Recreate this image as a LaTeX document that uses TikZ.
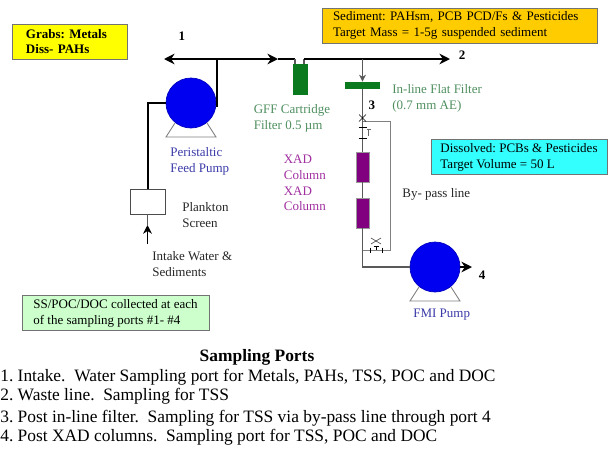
\documentclass[tikz,border=0pt]{standalone}
\usepackage{fontspec}
\setmainfont{Liberation Serif}
\usetikzlibrary{positioning, arrows.meta, calc}
\definecolor{grabyellow}{HTML}{FFFF00}
\definecolor{sedorange}{HTML}{FFCC00}
\definecolor{dissblue}{HTML}{33FFFF}
\definecolor{noteGreen}{HTML}{CCFFCC}
\definecolor{pumpblue}{HTML}{0000F0}
\definecolor{filtgreen}{HTML}{0B7A1E}
\definecolor{xadpurple}{HTML}{800080}
\definecolor{labblue}{HTML}{3A3AA8}
\definecolor{labgreen}{HTML}{4F8F5F}
\definecolor{labpurple}{HTML}{A030A0}
\definecolor{linegray}{HTML}{808080}
\frenchspacing

\begin{document}
\begin{tikzpicture}[
      every node/.style={font=\fontsize{7.4}{9}\selectfont},
      infobox/.style={draw=black!55, line width=0.5pt, align=left, inner sep=0pt,
                  minimum height=0.7cm},
      lab/.style={align=left, anchor=west, inner sep=0pt, text=black!85},
      num/.style={inner sep=0pt, font=\fontsize{7.4}{9}\selectfont\bfseries},
      pump/.style={circle, draw=pumpblue!80!black, fill=pumpblue, minimum size=1cm, inner sep=0pt},
      stand/.style={draw=black!50, line width=0.5pt},
      column/.style={draw=black!40, line width=0.2pt, fill=xadpurple, minimum width=0.26cm, minimum height=0.6cm, inner sep=0pt},
      mainline/.style={line width=1.3pt, black},
      thinline/.style={line width=0.7pt, black!65},
      bypass/.style={line width=0.5pt, linegray},
      portline/.style={anchor=west, inner sep=0pt, font=\fontsize{9.9}{12}\selectfont},
      >=Stealth,
    ]
    \useasboundingbox (0,0) rectangle (12.2,-9);

    % boxes at the top
    \node[infobox, fill=grabyellow, minimum width=2.3cm, text width=1.74cm, font=\fontsize{7.4}{9}\selectfont\bfseries] (grabs) at (1.39,-0.83) {Grabs: Metals\\Diss- PAHs};
    \node[infobox, fill=sedorange, minimum width=5.5cm, text width=5.06cm] (sed) at (9.19,-0.51) {Sediment: PAHsm, PCB PCD/Fs \& Pesticides\\Target Mass = 1-5g suspended sediment};
    \node[infobox, fill=dissblue, minimum width=3.52cm] (diss) at (10.38,-3.14) {Dissolved: PCBs \& Pesticides\\Target Volume = 50 L};
    \node[infobox, fill=noteGreen, minimum width=3.74cm] (note) at (2.31,-6.26) {SS/POC/DOC collected at each\\of the sampling ports \#1- \#4};

    % equipment
    \node[pump] (feed) at (3.82,-2.06) {};
    \node[pump] (fmi) at (8.7,-5.34) {};
    \node[draw=black!70, line width=0.4pt, fill=white, minimum width=0.7cm, minimum height=0.5cm, inner sep=0pt] (screen) at (2.95,-4.03) {};
    \node[draw=none, fill=filtgreen, minimum width=0.3cm, minimum height=0.62cm, inner sep=0pt] (gff) at (6.01,-1.59) {};
    \node[draw=none, fill=filtgreen, minimum width=0.7cm, minimum height=0.14cm, inner sep=0pt] (flat) at (7.25,-1.71) {};
    \node[column] (xad1) at (7.25,-3.34) {};
    \node[column] (xad2) at (7.25,-4.26) {};

    % pump stands
    \draw[stand] ($(feed)+(-0.32,-0.4)$) -- ++(-0.18,-0.28) -- ++(1,0) -- ++(-0.18,0.28);
    \draw[stand] ($(fmi)+(-0.32,-0.4)$) -- ++(-0.18,-0.28) -- ++(1,0) -- ++(-0.18,0.28);

    % named points on the lines
    \coordinate (jtop) at (4.34,-1.18);
    \coordinate (tipleft) at (3.28,-1.18);
    \coordinate (tipmid) at (5.56,-1.18);
    \coordinate (gffin) at (5.9,-1.18);
    \coordinate (gffout) at (6.08,-1.18);
    \coordinate (jflat) at (7.25,-1.18);
    \coordinate (tip2) at (9,-1.18);
    \coordinate (pumpout) at (4.34,-2.14);
    \coordinate (bend) at (2.96,-2.04);
    \coordinate (intake) at (2.95,-4.88);
    \coordinate (v1) at (7.25,-2.36);
    \coordinate (b1) at (7.8,-2.42);
    \coordinate (b2) at (7.8,-5);
    \coordinate (b3) at (7.25,-5);
    \coordinate (bot) at (7.25,-5.34);
    \coordinate (tip4) at (9.44,-5.34);

    % main lines
    \draw[mainline] (jtop) -- (pumpout);
    \draw[mainline, -{Stealth[length=6pt,width=6pt]}] (jtop) -- (tipleft);
    \draw[mainline, -{Stealth[length=6pt,width=6pt]}] (jtop) -- (tipmid);
    \draw[mainline] (tipmid) -- (gffin);
    \draw[thinline] (gffin) -- (gffin |- gff.north);
    \draw[thinline] (gffout) -- (gffout |- gff.north);
    \draw[mainline, -{Stealth[length=6pt,width=6pt]}] (gffout) -- (tip2);
    \draw[mainline] (feed.west) -- (feed.west -| bend) -- (bend |- screen.north);
    \draw[thinline] (screen.south) -- (intake |- 0,-4.5);
    \draw[line width=0.7pt, black, -{Stealth[length=5pt,width=5pt]}] (intake) -- (2.95,-4.5);
    \draw[thinline, -{Stealth[length=4pt,width=4pt]}] (jflat) -- (flat.north);
    \draw[thinline] (flat.south) -- (xad1.north);
    \draw[thinline] (xad1.south) -- (xad2.north);
    \draw[thinline] (xad2.south) -- (bot) -- (fmi.west);
    \draw[mainline, -{Stealth[length=6pt,width=6pt]}] (fmi.east) -- (tip4);

    % by-pass line and valves
    \draw[bypass] (b1 -| v1) -- (b1) -- (b2) -- (b3);
    \draw[line width=0.35pt] ($(v1)+(-0.07,0.07)$) -- ++(0.14,-0.14) ($(v1)+(0.07,0.07)$) -- ++(-0.14,-0.14);
    \draw[line width=0.35pt] ($(v1)+(-0.08,-0.18)$) -- ++(0.16,0);
    \draw[line width=0.35pt] ($(v1)+(-0.08,-0.4)$) -- ++(0.16,0);
    \draw[line width=0.3pt, black!60] ($(v1)+(0.12,-0.22)$) -- ++(0,-0.14) ($(v1)+(0.08,-0.22)$) -- ++(0.08,0);
    \draw[line width=0.35pt, black!70] ($(b3)+(0.17,0.24)$) -- ++(0.2,-0.12) ($(b3)+(0.17,0.12)$) -- ++(0.2,0.12);
    \draw[line width=0.35pt] ($(b3)+(0.15,0.05)$) -- ++(0,-0.1) ($(b3)+(0.4,0.05)$) -- ++(0,-0.1);
    \draw[line width=0.35pt] ($(b3)+(0.27,0)$) -- ++(0,0.08) ($(b3)+(0.22,0.08)$) -- ++(0.1,0);

    % port numbers
    \node[num] (n1) at (3.64,-0.72) {1};
    \node[num] (n2) at (9.24,-1.1) {2};
    \node[num] (n3) at (7.44,-2.1) {3};
    \node[num] (n4) at (9.64,-5.5) {4};

    % labels
    \node[lab, text=labblue] (lfeed) at (3.4,-3.22) {Peristaltic\\Feed Pump};
    \node[lab, text=labgreen] (lgff) at (5.07,-2.36) {GFF Cartridge\\Filter 0.5 µm};
    \node[lab, text=labgreen] (lflat) at (7.84,-1.96) {In-line Flat Filter\\(0.7 mm AE)};
    \node[lab, text=labpurple] (lxad) at (5.67,-3.66) {XAD\\Column\\XAD\\Column};
    \node[lab] (lby) at (8.04,-3.88) {By- pass line};
    \node[lab] (lscreen) at (3.64,-4.3) {Plankton\\Screen};
    \node[lab] (lintake) at (3.04,-5.28) {Intake Water \&\\Sediments};
    \node[lab, text=labblue] (lfmi) at (8.26,-6.3) {FMI Pump};

    % sampling ports text
    \node[inner sep=0pt, font=\fontsize{9.9}{12}\selectfont\bfseries] (ports) at (5.14,-7.14) {Sampling Ports};
    \node[portline] (p1) at (0,-7.54) {1. Intake.\ \ Water Sampling port for Metals, PAHs, TSS, POC and DOC};
    \node[portline] (p2) at (0,-7.92) {2. Waste line.\ \ Sampling for TSS};
    \node[portline] (p3) at (0,-8.36) {3. Post in-line filter.\ \ Sampling for TSS via by-pass line through port 4};
    \node[portline] (p4) at (0,-8.74) {4. Post XAD columns.\ \ Sampling port for TSS, POC and DOC};
  \end{tikzpicture}
\end{document}
